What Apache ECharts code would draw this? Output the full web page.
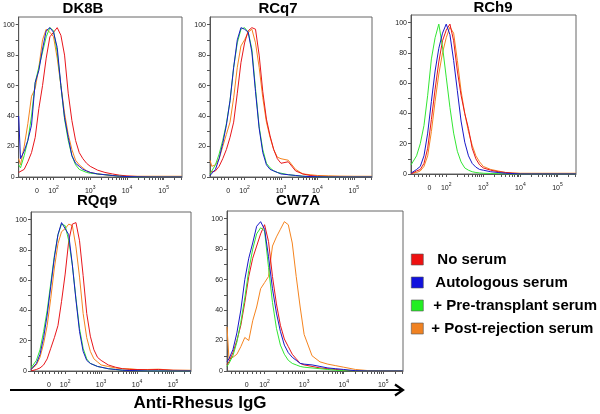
<!DOCTYPE html>
<html><head><meta charset="utf-8">
<script src="https://cdn.jsdelivr.net/npm/echarts@6/dist/echarts.min.js"></script>
<style>html,body{margin:0;padding:0;background:#fff}#c{width:600px;height:414px}</style>
</head><body><div id="c"></div>
<script>
// x positions in display decades (10^2 = 2, 10^3 = 3 ...; "0" sits at 1.55)
const xPos = [1.05,1.1,1.2,1.3,1.4,1.5,1.6,1.7,1.8,1.9,2.0,2.1,2.2,2.3,2.4,2.5,2.6,2.7,2.8,2.9,3.0,3.2,3.4,3.6,3.8,4.0,4.3,4.6,5.0,5.5];

const panelTitles = ['DK8B','RCq7','RCh9','RQq9','CW7A'];
const seriesNames = ['No serum','Autologous serum','+ Pre-transplant serum','+ Post-rejection serum'];

// DK8B
const dk8bRed    = [3,2,5,10,16,26,45,60,78,92,95,98,93,80,55,37,24,16,12,9,7,4.5,3,2,1.2,0.7,0.3,0.1,0,0];
const dk8bBlue   = [40,12,17,24,34,62,70,84,96,98,95,85,60,39,26,14,9,7,5,4,3,2,1.5,1,0.5,0.3,0.1,0,0,0];
const dk8bGreen  = [8,6,14,24,40,62,72,82,92,98,96,82,60,38,24,14,8,5,4,3,2.5,2,1.5,1,0.5,0.3,0,0,0,0];
const dk8bOrange = [12,8,20,35,53,58,72,90,97,95,92,78,60,42,28,18,11,8,6,4,3,2,1.5,1,0.7,0.5,0.5,0.5,0.5,0.5];
// RCq7
const rcq7Red    = [3,2,4,7,12,18,26,36,55,75,88,96,98,97,80,56,38,27,18,12,9,10,4,2,1,0.5,0.3,0.2,0,0];
const rcq7Blue   = [1,1,5,12,22,34,50,72,90,98,97,95,82,56,32,16,8,5,4,3,2,1.5,1,0.5,0.3,0.2,0,0,0,0];
const rcq7Green  = [2,3,8,15,24,35,50,72,88,97,98,95,84,58,33,18,9,6,4,3,2.5,1.5,1,0.5,0.3,0.2,0,0,0,0];
const rcq7Orange = [11,7,8,12,20,28,36,52,72,86,90,95,97,88,72,52,36,26,18,13,12,11,5,2,1.5,1,0.8,0.6,0.5,0.5];
// RCh9
const rch9Red    = [0,0.5,2,3,7,17,36,56,74,88,95,99,88,68,52,40,30,17,10,6,4,2.5,1.5,1,0.5,0.3,0.2,0.2,0.2,0.2];
const rch9Blue   = [0.5,1,3,5,12,27,48,68,83,93,99,92,75,55,35,21,12,7,4.5,3,2.5,1.5,1,0.5,0.3,0,0,0,0,0];
const rch9Green  = [6,8,12,20,32,52,76,90,99,84,64,44,27,15,8,4,2.5,1.5,1,0.7,0.5,0.3,0.2,0,0,0,0,0,0,0];
const rch9Orange = [0.5,0.5,1,2,5,12,28,48,66,80,90,97,93,75,55,40,28,19,12,8,5,3,2,1,0.7,0.5,0.5,0.5,0.5,0.5];
// RQq9
const rqq9Red    = [0,0.5,1,2,4,8,15,22,30,46,64,86,97,98,86,63,38,23,14,9,7,4,2.5,1.5,1,1,0.8,1,0.5,0.3];
const rqq9Blue   = [1,2,5,11,22,37,56,75,90,98,94,90,70,47,26,13,7,5,4,3,2.5,1.5,1,0.5,0.3,0.2,0,0,0,0];
const rqq9Green  = [2,3,7,14,26,40,58,76,90,97,96,86,70,48,28,15,8,5,4,3,2.5,1.5,1,0.5,0.3,0.2,0,0,0,0];
const rqq9Orange = [1,2,4,9,18,30,48,68,84,92,94,97,96,82,62,38,22,13,8,6,4,3,2,1.5,1.5,1,1,1.2,0.5,0.5];
// CW7A
const cw7aRed    = [4,6,12,20,30,45,62,74,82,90,96,85,62,44,30,21,16,11,8,5,4,3,2,1.5,1,0.5,0,0,0,0];
const cw7aBlue   = [6,8,14,25,40,60,74,84,95,98,93,75,54,38,26,17,12,9,7,5,4.5,4,3,2,1.5,1,0.2,0,0,0];
const cw7aGreen  = [3,5,10,19,32,48,66,80,90,94,92,68,45,28,17,11,7,5,4,3,2.5,2,1.5,1,0.5,0.2,0,0,0,0];
const cw7aOrange = [29,8,9,11,16,22,20,33,42,54,58,62,82,88,93,98,96,84,62,42,24,10,6,4.5,3.5,2.5,1,0.3,0.2,0];

const panelData = [
  [dk8bRed, dk8bBlue, dk8bGreen, dk8bOrange],
  [rcq7Red, rcq7Blue, rcq7Green, rcq7Orange],
  [rch9Red, rch9Blue, rch9Green, rch9Orange],
  [rqq9Red, rqq9Blue, rqq9Green, rqq9Orange],
  [cw7aRed, cw7aBlue, cw7aGreen, cw7aOrange]
];

// tick labels
const xLabelPos  = [1.55, 2, 3, 4, 5];
const xLabelBase = ['0', '10', '10', '10', '10'];
const xLabelExp  = ['', '2', '3', '4', '5'];
const yLabelVals = [0, 20, 40, 60, 80, 100];

const colors = ['#e8161b', '#1818c8', '#33e633', '#f5841f'];
const legendColors = ['#ee1111', '#1111dd', '#22ee22', '#f08222'];

// layout
const grids = [
  {left:18,  top:17,  width:164, height:160},
  {left:210, top:17,  width:162, height:160},
  {left:411, top:15,  width:165, height:159},
  {left:31,  top:212, width:160, height:159},
  {left:227, top:211, width:176, height:160}
];
const titlePos = [[83,9],[278,9],[493,8],[97,201],[298,201]];

const xTickPos = [1.15,1.25,1.35,1.45,1.55,1.7,1.8,1.9];
[2,3,4,5].forEach(d => { for (let k = 1; k <= 9; k++) { const v = d + Math.log10(k); if (v <= 5.5) xTickPos.push(+v.toFixed(4)); } });
const yTickVals = [0,10,20,30,40,50,60,70,80,90,100];

const FONT = '"Liberation Sans", Arial, sans-serif';

function fmtX(v) {
  for (let i = 0; i < xLabelPos.length; i++) {
    if (Math.abs(v - xLabelPos[i]) < 1e-6) {
      return xLabelExp[i] ? '{b|' + xLabelBase[i] + '}{e|' + xLabelExp[i] + '}' : '{b|' + xLabelBase[i] + '}';
    }
  }
  return '';
}

const xAxes = [], yAxes = [], series = [];
grids.forEach((g, i) => {
  xAxes.push({
    type:'value', gridIndex:i, min:1.05, max:5.5,
    axisLine:{show:true, onZero:false, lineStyle:{color:'#555', width:1}},
    axisTick:{show:true, customValues:xTickPos, length:3, lineStyle:{color:'#555', width:1}},
    axisLabel:{customValues:xLabelPos, formatter:fmtX, margin:8, color:'#222', fontFamily:FONT,
      rich:{b:{fontSize:7, fontFamily:FONT, color:'#222', lineHeight:10, verticalAlign:'bottom'},
            e:{fontSize:5, fontFamily:FONT, color:'#222', lineHeight:10, verticalAlign:'top'}}},
    splitLine:{show:false}
  });
  yAxes.push({
    type:'value', gridIndex:i, min:0, max:105,
    axisLine:{show:true, onZero:false, lineStyle:{color:'#555', width:1}},
    axisTick:{show:true, customValues:yTickVals, length:3, lineStyle:{color:'#555', width:1}},
    axisLabel:{customValues:yLabelVals, fontSize:7, color:'#222', margin:4, fontFamily:FONT},
    splitLine:{show:false}
  });
  // draw order: orange, red, green, blue
  [3,0,2,1].forEach(k => {
    series.push({
      type:'line', name:seriesNames[k], xAxisIndex:i, yAxisIndex:i,
      data: xPos.map((x, j) => [x, panelData[i][k][j]]),
      showSymbol:false, symbol:'none', silent:true, animation:false,
      lineStyle:{color:colors[k], width:1}, itemStyle:{color:legendColors[k]}
    });
  });
});

const legendPad = [9, 7, 5, 3];
const graphics = panelTitles.map((t, i) => ({
  type:'text', x:titlePos[i][0], y:titlePos[i][1],
  style:{text:t, font:'bold 15px ' + FONT, fill:'#000', textAlign:'center', textVerticalAlign:'middle'}
}));
graphics.push({type:'line', shape:{x1:10, y1:390, x2:401, y2:390}, style:{stroke:'#000', lineWidth:2.2}});
graphics.push({type:'polyline', shape:{points:[[395,384.5],[403,390],[395,395.5]]}, style:{stroke:'#000', lineWidth:2.2, fill:null}});
graphics.push({type:'text', x:200, y:403,
  style:{text:'Anti-Rhesus IgG', font:'bold 17px ' + FONT, fill:'#000', textAlign:'center', textVerticalAlign:'middle'}});

const chart = echarts.init(document.getElementById('c'), null, {renderer:'canvas'});
chart.setOption({
  animation:false,
  backgroundColor:'#fff',
  grid: grids.map(g => Object.assign({show:true, borderColor:'#666', borderWidth:1, backgroundColor:'transparent', containLabel:false}, g)),
  xAxis:xAxes, yAxis:yAxes, series:series,
  legend:{
    orient:'vertical', left:411, top:252, padding:0, itemWidth:12, itemHeight:11, itemGap:8,
    selectedMode:false,
    data: seriesNames.map((n, k) => ({name:n, icon:'rect',
      itemStyle:{color:legendColors[k], borderColor:'#555', borderWidth:0.6},
      textStyle:{padding:[0,0,0,legendPad[k]]}})),
    textStyle:{fontSize:15, fontWeight:'bold', color:'#000', fontFamily:FONT}
  },
  graphic:graphics
});
</script></body></html>
